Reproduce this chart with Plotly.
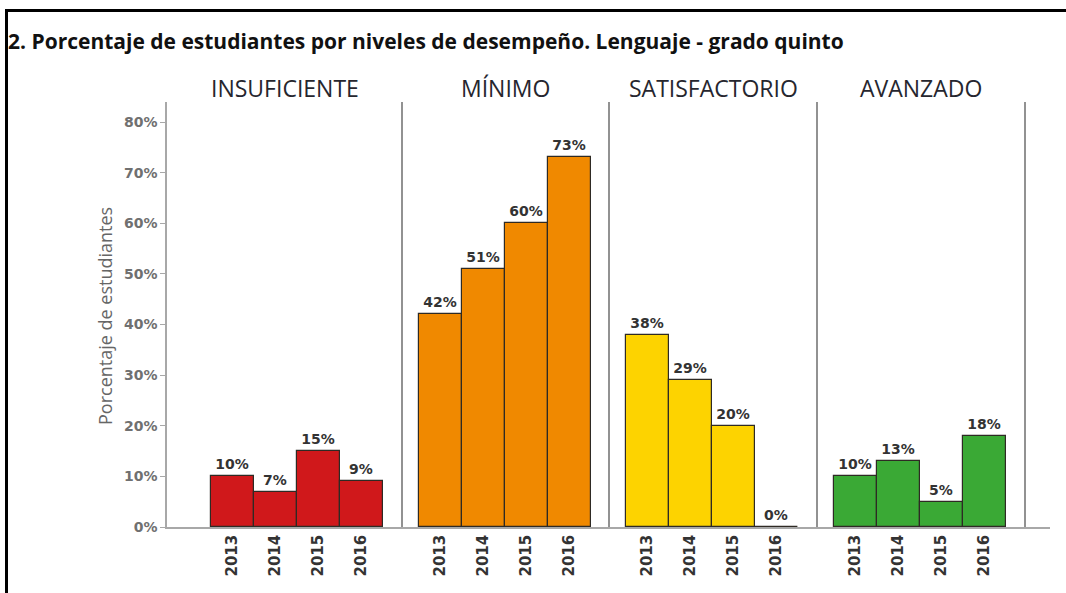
import plotly.graph_objects as go
from plotly.subplots import make_subplots

# ---- data ----
levels = ["INSUFICIENTE", "MÍNIMO", "SATISFACTORIO", "AVANZADO"]
years = ["2013", "2014", "2015", "2016"]
insuficiente = [10, 7, 15, 9]
minimo = [42, 51, 60, 73]
satisfactorio = [38, 29, 20, 0]
avanzado = [10, 13, 5, 18]
series = [insuficiente, minimo, satisfactorio, avanzado]
colors = ["#D0181B", "#F08900", "#FDD300", "#3AA935"]
y_ticks = [0, 10, 20, 30, 40, 50, 60, 70, 80]
title = "2. Porcentaje de estudiantes por niveles de desempeño. Lenguaje - grado quinto"
y_title = "Porcentaje de estudiantes"

# ---- layout geometry (pixels) ----
W, H = 1066, 593
L, R, T, B = 167, 1050, 102, 527
pw, ph = R - L, B - T


def px_x(x):
    return (x - L) / pw


def px_y(y):
    return (B - y) / ph


panel_px = [(167, 402), (402, 609), (609, 817), (817, 1050)]
divider_px = [402, 609, 817, 1025]
bar_left_px = [211, 419, 626, 834]
bar_w = 43

NUMFONT = "DejaVu Sans"

fig = make_subplots(rows=1, cols=4, shared_yaxes=True, horizontal_spacing=0)

for i, (lvl, vals, col) in enumerate(zip(levels, series, colors)):
    fig.add_trace(
        go.Bar(
            x=years, y=vals, text=[f"{v}%" for v in vals],
            marker=dict(color=col, line=dict(color="#2e2a24", width=1.2)),
            texttemplate="%{text}", textposition="outside",
            textfont=dict(family=NUMFONT, size=14, color="#333333", weight="bold"),
            cliponaxis=False, showlegend=False, name=lvl, hoverinfo="x+y",
        ),
        row=1, col=i + 1,
    )
    a, b = panel_px[i]
    left = -0.5 - (bar_left_px[i] - a) / bar_w
    right = 3.5 + (b - (bar_left_px[i] + 4 * bar_w)) / bar_w
    xa = "xaxis" if i == 0 else f"xaxis{i+1}"
    fig.layout[xa].update(
        domain=[px_x(a), px_x(b)], range=[left, right], type="category",
        showline=True, linecolor="#a8a8a8", linewidth=1.5, ticks="",
        tickangle=-90, showgrid=False, zeroline=False,
        tickfont=dict(family=NUMFONT, size=15, color="#333333", weight="bold"),
    )
    # divider
    fig.add_shape(type="line", xref="paper", yref="paper",
                  x0=px_x(divider_px[i]), x1=px_x(divider_px[i]), y0=0, y1=1,
                  line=dict(color="#6e6e6e", width=1.5))
    # header
    fig.add_annotation(text=lvl, xref="paper", yref="paper",
                       x=px_x((divider_px[i] + (divider_px[i - 1] if i else 167)) / 2),
                       y=px_y(88), showarrow=False, xanchor="center", yanchor="middle",
                       font=dict(family="Open Sans", size=23, color="#26262e"))

fig.update_yaxes(range=[0, 80 * (B - T) / (B - 122)], tickvals=y_ticks,
                 ticktext=[f"{v}%" for v in y_ticks],
                 showgrid=False, zeroline=False, ticks="", showline=False)
fig.update_yaxes(row=1, col=1, showline=True, linecolor="#a8a8a8", linewidth=1.5,
                 ticks="outside", ticklen=5, tickcolor="#a8a8a8",
                 tickfont=dict(family=NUMFONT, size=14, color="#707070", weight="bold"))

# y-axis title
fig.add_annotation(text=y_title, xref="paper", yref="paper", x=px_x(105), y=px_y(316),
                   xanchor="center", yanchor="middle",
                   textangle=-90, showarrow=False,
                   font=dict(family="Open Sans", size=18, color="#666666"))

# frame (left and top)
fig.add_shape(type="line", xref="paper", yref="paper", x0=px_x(6.5), x1=px_x(6.5),
              y0=px_y(9), y1=px_y(600), line=dict(color="#000000", width=3))
fig.add_shape(type="line", xref="paper", yref="paper", x0=px_x(5), x1=px_x(1070),
              y0=px_y(10.5), y1=px_y(10.5), line=dict(color="#000000", width=3))

fig.update_layout(
    width=W, height=H,
    margin=dict(l=L, r=W - R, t=T, b=H - B),
    plot_bgcolor="white", paper_bgcolor="white",
    bargap=0,
    title=dict(text=title, x=8 / W, xanchor="left", y=1 - 42 / H, yanchor="middle",
               xref="container", yref="container",
               font=dict(family="Open Sans", size=21, color="#111111", weight="bold")),
)

fig.write_html("out.html", config={"displayModeBar": False},
               post_script="document.body.style.margin='0';document.body.style.overflow='hidden';")
